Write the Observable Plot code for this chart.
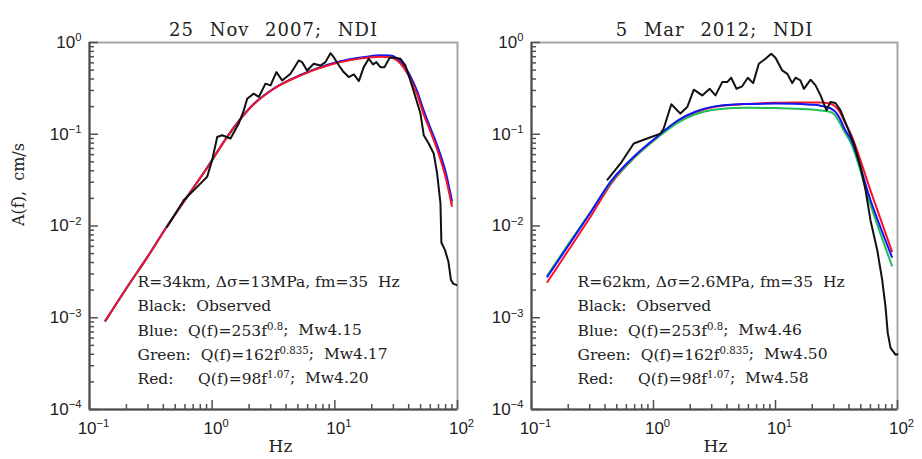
<!DOCTYPE html>
<html><head><meta charset="utf-8">
<script src="https://cdn.jsdelivr.net/npm/d3@7"></script>
<script src="https://cdn.jsdelivr.net/npm/@observablehq/plot@0.6"></script>
<style>
html,body{margin:0;padding:0;background:#fff;}
#wrap{display:flex;width:922px;height:459px;}
svg text{white-space:pre;}
</style></head><body><div id="wrap"></div>
<script>
// ---------- axis ticks ----------
const X_MAJOR = [0.1, 1, 10, 100];
const Y_MAJOR = [1e-4, 1e-3, 1e-2, 1e-1, 1];
const X_DOMAIN = [0.1, 100];
const Y_DOMAIN = [1e-4, 1];

// ---------- panel 1: 25 Nov 2007 ----------
const titleL = "25 Nov 2007; NDI";
const fModelL = [0.135, 0.2, 0.3, 0.43, 0.625, 0.91, 1.325, 2.05, 3.18, 5.25, 9.8, 18.3, 23.5, 28.4, 32.2, 36.2, 41.3, 46.9, 53, 60, 70, 80, 90];
const blueL  = [0.00093, 0.0021, 0.0047, 0.0100, 0.0208, 0.0432, 0.094, 0.197, 0.315, 0.442, 0.600, 0.700, 0.725, 0.720, 0.670, 0.575, 0.430, 0.295, 0.182, 0.118, 0.069, 0.039, 0.019];
const greenL = [0.00093, 0.0021, 0.0047, 0.0100, 0.0208, 0.0431, 0.0935, 0.196, 0.314, 0.440, 0.593, 0.690, 0.712, 0.705, 0.655, 0.557, 0.415, 0.282, 0.173, 0.113, 0.065, 0.036, 0.0178];
const redL   = [0.00093, 0.0021, 0.0047, 0.0100, 0.0208, 0.0430, 0.093, 0.195, 0.313, 0.438, 0.586, 0.681, 0.700, 0.690, 0.637, 0.539, 0.400, 0.270, 0.165, 0.108, 0.062, 0.034, 0.0165];
const fObsL = [0.43, 0.588, 0.755, 0.91, 1.0, 1.099, 1.206, 1.41, 1.648, 1.81, 1.93, 2.18, 2.40, 2.72, 2.99, 3.34, 3.72, 4.35, 5.08, 5.41, 5.94, 6.73, 7.63, 8.38, 9.21, 9.80, 10.8, 11.8, 13.0, 14.3, 15.7, 17.2, 18.9, 20.5, 21.8, 23.5, 25.4, 28.0, 31.2, 34.3, 37.6, 41.3, 45.4, 49.9, 53.1, 58.2, 64.0, 68.2, 72.6, 73.9, 78.9, 84.3, 88.3, 92.6, 98];
const aObsL = [0.0098, 0.0192, 0.0267, 0.0344, 0.0522, 0.0935, 0.0975, 0.0898, 0.131, 0.182, 0.244, 0.277, 0.255, 0.356, 0.341, 0.476, 0.386, 0.456, 0.637, 0.611, 0.496, 0.587, 0.562, 0.611, 0.765, 0.692, 0.562, 0.476, 0.42, 0.449, 0.38, 0.539, 0.665, 0.577, 0.611, 0.539, 0.539, 0.681, 0.681, 0.665, 0.562, 0.386, 0.255, 0.168, 0.0975, 0.0792, 0.0617, 0.0374, 0.0178, 0.0066, 0.0055, 0.0041, 0.0026, 0.00234, 0.00228];
const notesL = [
  "R=34km, Δσ=13MPa, fm=35  Hz",
  "Black:  Observed",
  "Blue:  Q(f)=253f^{0.8};  Mw4.15",
  "Green:  Q(f)=162f^{0.835};  Mw4.17",
  "Red:     Q(f)=98f^{1.07};  Mw4.20"
];

// ---------- panel 2: 5 Mar 2012 ----------
const titleR = "5 Mar 2012; NDI";
const fModelR = [0.135, 0.2, 0.3, 0.45, 0.7, 1.1, 1.6, 2.2, 3.1, 5.5, 10, 14, 19.4, 23.4, 28.2, 31, 34, 37, 41.2, 60, 90];
const blueR  = [0.0028, 0.0061, 0.0136, 0.031, 0.058, 0.097, 0.143, 0.176, 0.200, 0.213, 0.216, 0.215, 0.210, 0.205, 0.192, 0.175, 0.145, 0.113, 0.090, 0.0192, 0.0046];
const greenR = [0.0029, 0.0063, 0.0138, 0.030, 0.056, 0.094, 0.135, 0.165, 0.185, 0.194, 0.193, 0.190, 0.186, 0.182, 0.175, 0.160, 0.130, 0.105, 0.082, 0.0171, 0.0037];
const redR   = [0.00245, 0.0054, 0.0122, 0.029, 0.056, 0.095, 0.140, 0.173, 0.198, 0.213, 0.220, 0.222, 0.222, 0.222, 0.215, 0.200, 0.170, 0.135, 0.102, 0.0245, 0.0053];
const fObsR = [0.42, 0.537, 0.689, 0.887, 1.14, 1.21, 1.40, 1.66, 1.89, 2.14, 2.51, 2.89, 3.22, 3.66, 4.02, 4.33, 4.79, 5.33, 5.93, 6.56, 7.30, 8.28, 9.22, 10.0, 11.35, 12.5, 13.7, 14.6, 16.0, 17.1, 19.4, 21.3, 23.4, 26.2, 28.2, 31.0, 34.1, 38.7, 43.9, 49.8, 54.7, 60.1, 68.2, 74.9, 79.7, 83.2, 87.7, 96.3, 100];
const aObsR = [0.032, 0.048, 0.0792, 0.0898, 0.1016, 0.115, 0.212, 0.168, 0.198, 0.306, 0.265, 0.313, 0.265, 0.370, 0.370, 0.413, 0.313, 0.333, 0.413, 0.361, 0.587, 0.665, 0.754, 0.681, 0.496, 0.456, 0.361, 0.413, 0.386, 0.313, 0.393, 0.341, 0.265, 0.182, 0.225, 0.219, 0.182, 0.12, 0.079, 0.0441, 0.0246, 0.0115, 0.00548, 0.00259, 0.00133, 0.00068, 0.00047, 0.000396, 0.0004];
const notesR = [
  "R=62km, Δσ=2.6MPa, fm=35  Hz",
  "Black:  Observed",
  "Blue:  Q(f)=253f^{0.8};  Mw4.46",
  "Green:  Q(f)=162f^{0.835};  Mw4.50",
  "Red:     Q(f)=98f^{1.07};  Mw4.58"
];

const yLabel = "A(f),  cm/s";
const xLabel = "Hz";

const COLORS = {blue: "#1414f5", green: "#1fbf55", red: "#f5142a", black: "#111"};
const SERIF = "DejaVu Serif";
const SANS = "Liberation Sans, Arial, sans-serif";
const W = 461, H = 459, MT = 42, MB = 50;

function minorTicks(lo, hi) {
  const out = [];
  for (let d = lo; d < hi * 0.999; d *= 10) for (let k = 2; k <= 9; k++) out.push(d * k);
  return out;
}
const X_MINOR = minorTicks(0.1, 100);
const Y_MINOR = minorTicks(1e-4, 1);

function expFmt(v) {
  const e = Math.round(Math.log10(v));
  return "10^{" + (e < 0 ? "\u2212" + (-e) : String(e)) + "}";
}
const rows = (fs, as) => fs.map((f, i) => ({f, a: as[i]}));

function applySup(svg) {
  const NS = "http://www.w3.org/2000/svg";
  svg.querySelectorAll("text").forEach(t => {
    if (t.querySelector("tspan")) return;
    const s = t.textContent;
    if (!s.includes("^{")) return;
    t.textContent = "";
    const re = /\^\{([^}]*)\}/g;
    let last = 0, m, down = false;
    const add = (str, attrs) => {
      const ts = document.createElementNS(NS, "tspan");
      ts.textContent = str;
      for (const k in attrs) ts.setAttribute(k, attrs[k]);
      t.appendChild(ts);
    };
    while ((m = re.exec(s))) {
      const before = s.slice(last, m.index);
      if (before) { add(before, down ? {dy: "0.38em"} : {}); down = false; }
      add(m[1], {"font-size": "66%", dy: "-0.58em"});
      down = true;
      last = re.lastIndex;
    }
    const rest = s.slice(last);
    if (rest) add(rest, down ? {dy: "0.38em"} : {});
  });
}

function panel(cfg) {
  const fh = H - MT - MB;             // frame height
  const fw = W - cfg.ml - cfg.mr;     // frame width
  const tickStyle = {stroke: "#505050", strokeWidth: 1.5};
  const marks = [
    Plot.frame({stroke: "#a6a6a6", strokeWidth: 2}),
    Plot.ruleX([X_DOMAIN[0]], {stroke: "#4a4a4a", strokeWidth: 2}),
    Plot.ruleY([Y_DOMAIN[0]], {stroke: "#4a4a4a", strokeWidth: 2}),
    // inward ticks on the bottom and left edges
    Plot.tickX(X_MINOR, {x: d => d, insetTop: fh - 5, ...tickStyle}),
    Plot.tickX(X_MAJOR, {x: d => d, insetTop: fh - 9, ...tickStyle}),
    Plot.tickY(Y_MINOR, {y: d => d, insetRight: fw - 5, ...tickStyle}),
    Plot.tickY(Y_MAJOR, {y: d => d, insetRight: fw - 9, ...tickStyle}),
    Plot.axisX({ticks: X_MAJOR, tickSize: 0, tickPadding: 12, dx: 4, tickFormat: expFmt, label: null, fontSize: 17, fontFamily: SANS, fill: "#222"}),
    Plot.axisY({ticks: Y_MAJOR, tickSize: 0, tickPadding: 8, tickFormat: expFmt, label: null, fontSize: 17, fontFamily: SANS, fill: "#222"})
  ];
  for (const s of cfg.order) {
    marks.push(Plot.line(rows(cfg.fModel, cfg[s]), {x: "f", y: "a", stroke: COLORS[s], strokeWidth: 2, curve: "monotone-x"}));
  }
  marks.push(Plot.line(rows(cfg.fObs, cfg.aObs), {x: "f", y: "a", stroke: COLORS.black, strokeWidth: 2}));
  marks.push(Plot.text([cfg.title], {frameAnchor: "top", dy: -19, fontSize: 18, fontFamily: SERIF, fill: "#222"}));
  marks.push(Plot.text([xLabel], {frameAnchor: "bottom", dy: 42, dx: cfg.hzDx, fontSize: 17, fontFamily: SERIF, fill: "#222"}));
  if (cfg.yLabel) marks.push(Plot.text([cfg.yLabel], {frameAnchor: "left", dx: -71, rotate: -90, fontSize: 16, fontFamily: SERIF, fill: "#222"}));
  const lineDy = [-123, -99, -74, -50, -26];
  cfg.notes.forEach((n, i) => {
    marks.push(Plot.text([n], {frameAnchor: "bottom-left", textAnchor: "start", dx: cfg.noteDx, dy: lineDy[i], fontSize: 15.5, fontFamily: SERIF, fill: "#222"}));
  });
  const svg = Plot.plot({
    width: W, height: H,
    marginLeft: cfg.ml, marginRight: cfg.mr, marginTop: MT, marginBottom: MB,
    x: {type: "log", domain: X_DOMAIN},
    y: {type: "log", domain: Y_DOMAIN},
    style: {background: "transparent", fontFamily: SERIF, overflow: "visible"},
    marks
  });
  applySup(svg);
  // wide letter/word spacing of the title, as in the reference
  svg.querySelectorAll("text").forEach(t => {
    if (t.textContent === cfg.title) { t.style.letterSpacing = "1px"; t.style.wordSpacing = "9px"; }
  });
  return svg;
}

const wrap = document.getElementById("wrap");
wrap.appendChild(panel({
  title: titleL, fModel: fModelL, blue: blueL, green: greenL, red: redL,
  fObs: fObsL, aObs: aObsL, notes: notesL, order: ["green", "blue", "red"],
  ml: 89, mr: 4, noteDx: 48, hzDx: 7, yLabel: yLabel
}));
wrap.appendChild(panel({
  title: titleR, fModel: fModelR, blue: blueR, green: greenR, red: redR,
  fObs: fObsR, aObs: aObsR, notes: notesR, order: ["red", "green", "blue"],
  ml: 70, mr: 25, noteDx: 46, hzDx: 1, yLabel: null
}));
</script></body></html>
